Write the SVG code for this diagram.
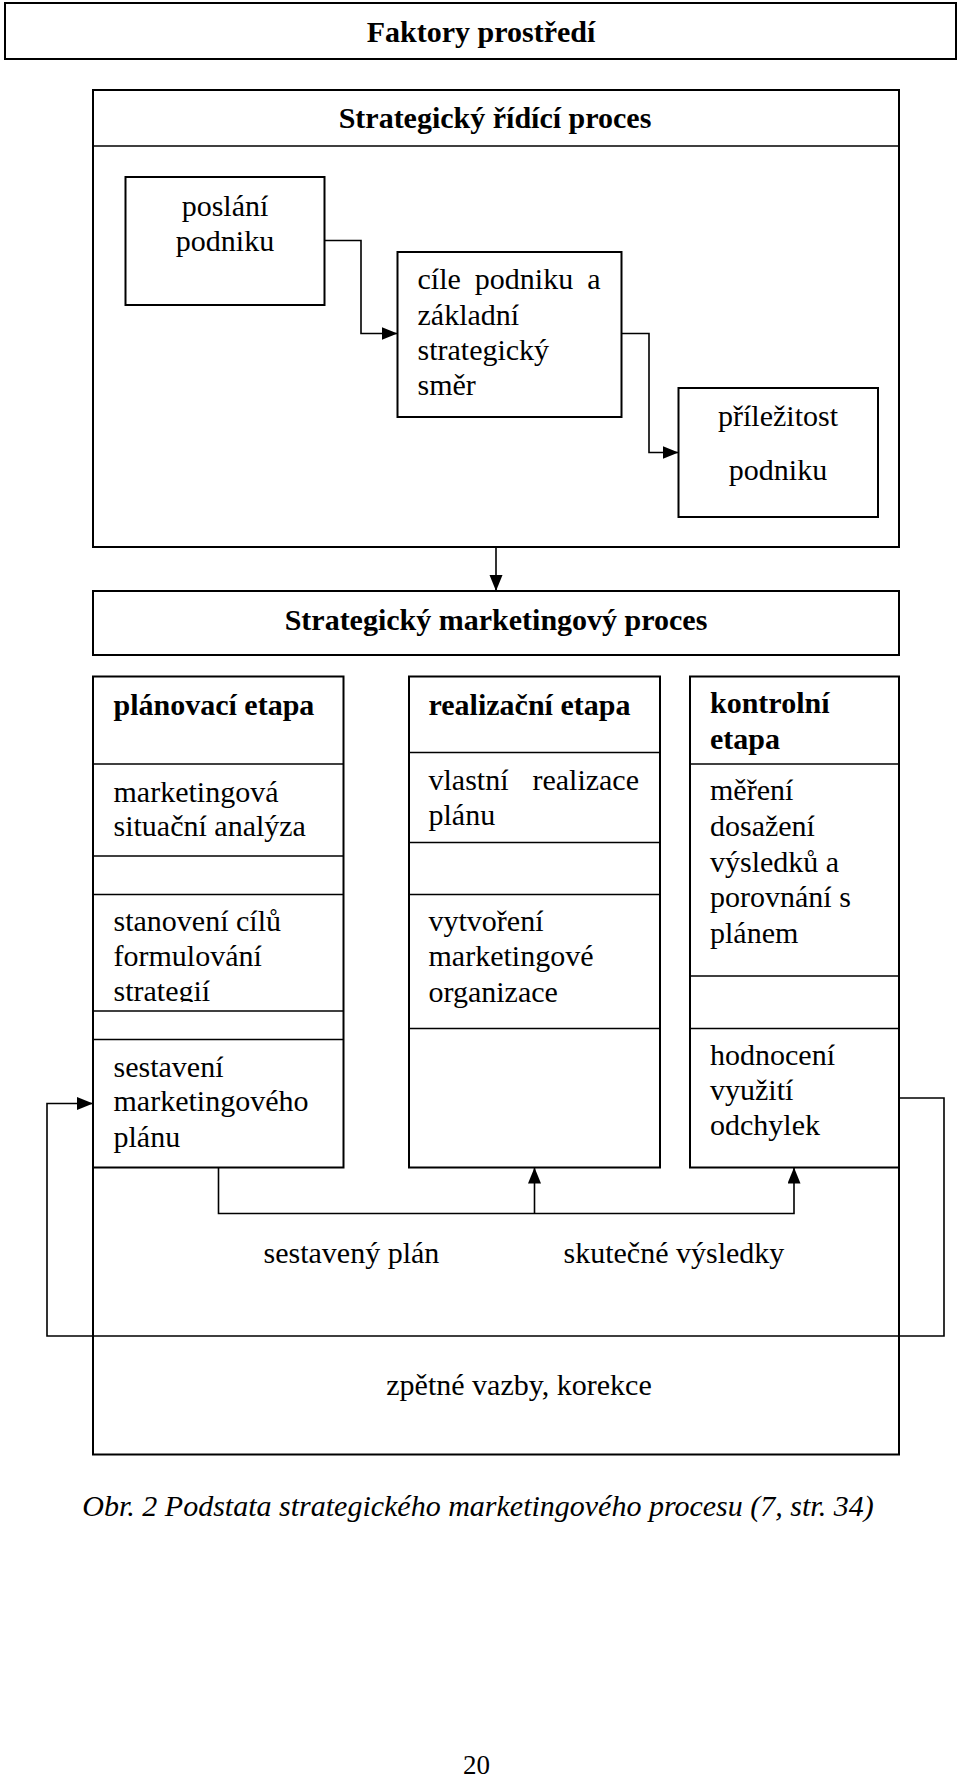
<svg xmlns="http://www.w3.org/2000/svg" width="960" height="1778" viewBox="0 0 960 1778">
<style>
  .box{fill:none;stroke:#000;stroke-width:2}
  .ln{fill:none;stroke:#000;stroke-width:1.6}
  .con{fill:none;stroke:#000;stroke-width:1.6}
  text{font-family:"Liberation Serif","Times New Roman",serif;font-size:30px;fill:#000}
  .b{font-weight:bold}
  .c{text-anchor:middle}
  .it{font-style:italic}
</style>
<defs>
  <marker id="ah" markerUnits="userSpaceOnUse" markerWidth="18" markerHeight="14" refX="16" refY="6.5" orient="auto">
    <path d="M0,0 L16,6.5 L0,13 Z" fill="#000"/>
  </marker>
  <clipPath id="clipStrat"><rect x="100" y="975" width="240" height="27"/></clipPath>
</defs>
<rect width="960" height="1778" fill="#fff"/>

<g id="faktory">
  <rect class="box" x="5" y="3" width="951" height="56"/>
  <text class="b c" x="481" y="42">Faktory prostředí</text>
</g>

<g id="ridici-proces">
  <rect class="box" x="93" y="90" width="806" height="457"/>
  <line class="ln" x1="93" y1="146" x2="899" y2="146"/>
  <text class="b c" x="495" y="128">Strategický řídící proces</text>
</g>

<g id="poslani">
  <rect class="box" x="125.5" y="177" width="199" height="128"/>
  <text class="c" x="225" y="216">poslání</text>
  <text class="c" x="225" y="251">podniku</text>
</g>

<g id="cile">
  <rect class="box" x="397.5" y="252" width="224" height="165"/>
  <text x="417.5" y="289" word-spacing="6.5">cíle podniku a</text>
  <text x="417.5" y="325">základní</text>
  <text x="417.5" y="360">strategický</text>
  <text x="417.5" y="395">směr</text>
</g>

<g id="prilezitost">
  <rect class="box" x="678.5" y="388" width="199.5" height="129"/>
  <text class="c" x="778" y="426">příležitost</text>
  <text class="c" x="778" y="480">podniku</text>
</g>

<g id="marketingovy-proces">
  <rect class="box" x="93" y="591" width="806" height="64"/>
  <text class="b c" x="496" y="630">Strategický marketingový proces</text>
</g>

<g id="planovaci-etapa">
  <rect class="box" x="93" y="676.5" width="250.5" height="491"/>
  <line class="ln" x1="93" y1="764" x2="343.5" y2="764"/>
  <line class="ln" x1="93" y1="856" x2="343.5" y2="856"/>
  <line class="ln" x1="93" y1="894.5" x2="343.5" y2="894.5"/>
  <line class="ln" x1="93" y1="1011" x2="343.5" y2="1011"/>
  <line class="ln" x1="93" y1="1039.5" x2="343.5" y2="1039.5"/>
  <text class="b" x="113.5" y="715">plánovací etapa</text>
  <text x="113.5" y="802">marketingová</text>
  <text x="113.5" y="836">situační analýza</text>
  <text x="113.5" y="931">stanovení cílů</text>
  <text x="113.5" y="966">formulování</text>
  <text x="113.5" y="1001" clip-path="url(#clipStrat)">strategií</text>
  <text x="113.5" y="1077">sestavení</text>
  <text x="113.5" y="1111">marketingového</text>
  <text x="113.5" y="1147">plánu</text>
</g>

<g id="realizacni-etapa">
  <rect class="box" x="409" y="676.5" width="251" height="491"/>
  <line class="ln" x1="409" y1="752.5" x2="660" y2="752.5"/>
  <line class="ln" x1="409" y1="842.5" x2="660" y2="842.5"/>
  <line class="ln" x1="409" y1="894.5" x2="660" y2="894.5"/>
  <line class="ln" x1="409" y1="1028.5" x2="660" y2="1028.5"/>
  <text class="b" x="428.5" y="715">realizační etapa</text>
  <text x="428.5" y="790"><tspan>vlastní</tspan><tspan x="639" text-anchor="end">realizace</tspan></text>
  <text x="428.5" y="825">plánu</text>
  <text x="428.5" y="931">vytvoření</text>
  <text x="428.5" y="966">marketingové</text>
  <text x="428.5" y="1002">organizace</text>
</g>

<g id="kontrolni-etapa">
  <rect class="box" x="690" y="676.5" width="209" height="491"/>
  <line class="ln" x1="690" y1="764" x2="899" y2="764"/>
  <line class="ln" x1="690" y1="976" x2="899" y2="976"/>
  <line class="ln" x1="690" y1="1028.5" x2="899" y2="1028.5"/>
  <text class="b" x="710" y="713">kontrolní</text>
  <text class="b" x="710" y="749">etapa</text>
  <text x="710" y="800">měření</text>
  <text x="710" y="836">dosažení</text>
  <text x="710" y="872">výsledků a</text>
  <text x="710" y="907">porovnání s</text>
  <text x="710" y="943">plánem</text>
  <text x="710" y="1065">hodnocení</text>
  <text x="710" y="1100">využití</text>
  <text x="710" y="1135">odchylek</text>
</g>

<g id="zpetne-vazby">
  <path class="box" d="M93,1167.5 V1454.5 H899 V1167.5"/>
  <text class="c" x="519" y="1395">zpětné vazby, korekce</text>
</g>

<g id="labels">
  <text x="263.5" y="1263">sestavený plán</text>
  <text x="563.5" y="1263">skutečné výsledky</text>
</g>

<g id="connectors">
  <path class="con" d="M324.5,240.5 H361 V333.5 H397.5" marker-end="url(#ah)"/>
  <path class="con" d="M621.5,333.5 H649 V452.5 H678.5" marker-end="url(#ah)"/>
  <path class="con" d="M496,547 V591" marker-end="url(#ah)"/>
  <path class="con" d="M218.5,1167.5 V1213.5 H794 V1167.5" marker-end="url(#ah)"/>
  <path class="con" d="M534.5,1213.5 V1167.5" marker-end="url(#ah)"/>
  <path class="con" d="M899,1098 H944 V1336 H47 V1103.5 H93" marker-end="url(#ah)"/>
</g>

<g id="caption">
  <text class="it c" x="478" y="1516">Obr. 2 Podstata strategického marketingového procesu (7, str. 34)</text>
</g>
<g id="page-number">
  <text class="c" x="476.5" y="1774" style="font-size:27px">20</text>
</g>
</svg>
